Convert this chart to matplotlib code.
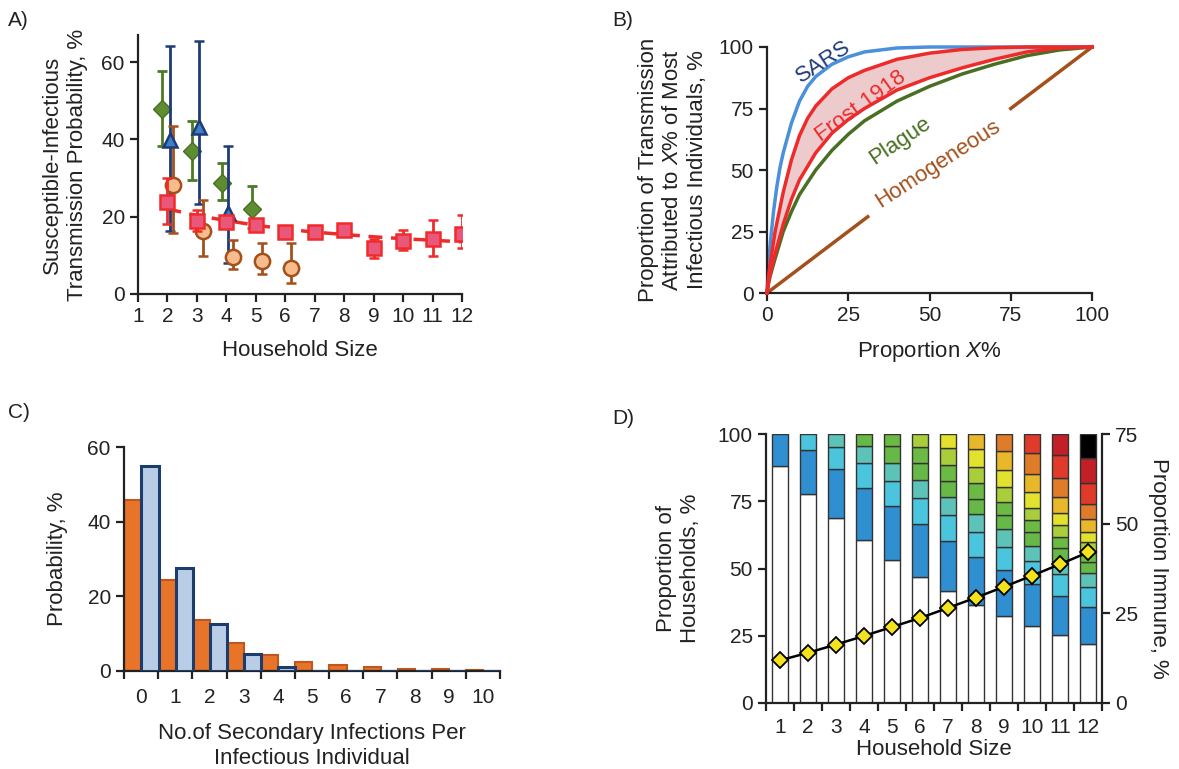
import numpy as np
import matplotlib
matplotlib.use("Agg")
import matplotlib.pyplot as plt
from matplotlib.ticker import FixedLocator

plt.rcParams['font.family'] = ['Liberation Sans', 'DejaVu Sans']
plt.rcParams['mathtext.fontset'] = 'custom'
plt.rcParams['mathtext.it'] = 'Liberation Sans:italic'
plt.rcParams['mathtext.rm'] = 'Liberation Sans'
plt.rcParams['font.size'] = 16
plt.rcParams['text.color'] = '#222222'
plt.rcParams['axes.labelcolor'] = '#222222'
plt.rcParams['xtick.color'] = '#222222'
plt.rcParams['ytick.color'] = '#222222'

# ---- Panel A data: transmission probability by household size
red_x = [2, 3, 4, 5, 6, 7, 8, 9, 10, 11, 12]
red_y = [23.9, 19.0, 18.7, 17.8, 16.0, 16.0, 16.6, 11.8, 13.8, 14.1, 15.4]
red_lo = [18.0, 16.4, 17.2, 16.3, 14.5, 14.5, 15.1, 9.2, 11.4, 9.8, 11.8]
red_hi = [29.9, 21.7, 20.2, 19.3, 17.5, 17.5, 18.1, 14.1, 16.6, 19.1, 20.4]
red_fit = [22.0, 20.3, 19.0, 17.8, 16.8, 16.0, 15.4, 14.8, 14.3, 13.9, 13.5]

green_x = [1.83, 2.84, 3.84, 4.88]
green_y = [47.9, 37.0, 28.8, 21.9]
green_lo = [38.4, 29.5, 24.3, 17.0]
green_hi = [57.7, 44.8, 33.8, 27.9]

blue_x = [2.08, 3.07, 4.07]
blue_y = [39.8, 43.3, 20.9]
blue_lo = [16.4, 23.2, 7.9]
blue_hi = [64.2, 65.4, 38.4]

orange_x = [2.19, 3.21, 4.21, 5.22, 6.19]
orange_y = [28.2, 16.3, 9.6, 8.6, 6.8]
orange_lo = [15.9, 9.8, 6.4, 5.3, 2.8]
orange_hi = [43.5, 24.3, 14.0, 13.1, 13.3]

# ---- Panel B data: cumulative transmission curves
sars_x = [0, 0.5, 1, 2, 3, 4, 5, 7.5, 10, 12.5, 15, 20, 25, 30, 40, 50, 100]
sars_y = [0, 12, 20, 33, 43, 51, 57, 69, 78, 84, 88, 93, 96, 98, 99.6, 100, 100]
frost_hi_x = [0, 0.5, 1, 2.5, 5, 7.5, 10, 12.5, 15, 20, 25, 30, 40, 50, 60, 70, 80, 100]
frost_hi_y = [0, 7, 12, 25, 41, 54, 64, 71, 76, 83, 87.5, 90.5, 95, 97.5, 99, 99.7, 100, 100]
frost_lo_x = [0, 0.5, 1, 2.5, 5, 7.5, 10, 15, 20, 25, 30, 40, 50, 60, 70, 80, 90, 100]
frost_lo_y = [0, 5, 8, 16, 28, 38, 46, 57, 65, 70.5, 75, 82.5, 87.5, 91.5, 95, 98, 99.6, 100]
plague_x = [0, 0.5, 1, 2.5, 5, 7.5, 10, 15, 20, 25, 30, 40, 50, 60, 70, 80, 90, 100]
plague_y = [0, 4, 7, 14, 25, 33, 40, 50, 58, 64.5, 70, 78, 84, 89, 93, 96.5, 98.8, 100]
homog_x = [0, 31, 75, 100]
homog_y = [0, 31, 75, 100]

# ---- Panel C data: offspring distribution
offspring = np.arange(11)
orange_prob = [45.9, 24.5, 13.6, 7.6, 4.3, 2.5, 1.5, 1.0, 0.6, 0.45, 0.3]
blue_prob = [54.8, 27.5, 12.5, 4.5, 1.2, 0, 0, 0, 0, 0, 0]

# ---- Panel D data: households by number infected, proportion immune
hh_sizes = np.arange(1, 13)
hh_dist = [
    [88.2, 11.8],
    [77.8, 16.4, 5.8],
    [68.7, 18.3, 8.3, 4.7],
    [60.5, 19.5, 9.1, 6.6, 4.3],
    [53.3, 19.8, 9.4, 6.9, 6.0, 4.6],
    [47.0, 19.5, 9.7, 6.8, 6.1, 6.1, 4.8],
    [41.7, 18.4, 9.7, 6.9, 5.8, 6.1, 6.2, 5.2],
    [36.5, 17.7, 9.5, 6.5, 5.7, 5.7, 6.0, 6.7, 5.7],
    [32.3, 17.0, 8.7, 6.5, 5.4, 5.0, 5.3, 6.4, 7.1, 6.3],
    [28.5, 15.7, 8.6, 5.7, 5.0, 4.6, 4.4, 5.8, 7.0, 7.8, 6.9],
    [25.1, 14.5, 8.2, 5.0, 4.7, 4.3, 4.2, 4.7, 5.9, 7.1, 8.4, 7.9],
    [22.0, 13.6, 7.5, 5.2, 4.1, 3.5, 3.9, 3.7, 4.8, 5.7, 7.7, 9.3, 9.0],
]
immune = [11.9, 14.0, 16.3, 18.7, 21.2, 23.7, 26.5, 29.4, 32.4, 35.5, 38.7, 42.0]
seg_colors = ['white', '#2F8FD1', '#4BC4DE', '#5DC3B9', '#66B946', '#6BBA44',
              '#A8CE3C', '#E2E22E', '#E8B82A', '#E07B2A', '#E03A2A', '#C21F26', '#000000']

W, H = 1179, 769
fig = plt.figure(figsize=(W / 100, H / 100), dpi=100)


def box(l, t, r, b):
    return [l / W, 1 - b / H, (r - l) / W, (b - t) / H]


def style(ax):
    for s in ['top', 'right']:
        ax.spines[s].set_visible(False)
    for s in ['left', 'bottom']:
        ax.spines[s].set_linewidth(1.6)
        ax.spines[s].set_color('#222222')
    ax.tick_params(direction='out', length=6, width=1.6, labelsize=15)


# ---------------- A
axA = fig.add_axes(box(138, 35, 462, 294))
style(axA)
axA.plot(red_x, red_fit, '--', color='#EE2B2B', lw=2.5, dashes=(4, 2.5), zorder=2)


def errs(y, lo, hi):
    return [np.subtract(y, lo), np.subtract(hi, y)]


axA.errorbar(green_x, green_y, yerr=errs(green_y, green_lo, green_hi), fmt='D', ms=9,
             mfc='#5E8C30', mec='#4A6E22', color='#4D7A25', elinewidth=2, capsize=3.5,
             capthick=2, zorder=3)
axA.errorbar(blue_x, blue_y, yerr=errs(blue_y, blue_lo, blue_hi), fmt='^', ms=10,
             mfc='#3F7EC8', mec='#1E3B78', mew=1.8, color='#1E3B78', elinewidth=2,
             capsize=3.5, capthick=2, zorder=4)
axA.errorbar(orange_x, orange_y, yerr=errs(orange_y, orange_lo, orange_hi), fmt='o', ms=11,
             mfc='#F6BC8C', mec='#A3501C', mew=1.8, color='#A3501C', elinewidth=2,
             capsize=3.5, capthick=2, zorder=4)
axA.errorbar(red_x, red_y, yerr=errs(red_y, red_lo, red_hi), fmt='s', ms=10,
             mfc='#E9587A', mec='#F02B2B', mew=1.8, color='#F02B2B', elinewidth=2,
             capsize=3.5, capthick=2, zorder=5)
axA.set_xlim(1, 12)
axA.set_ylim(0, 67)
axA.set_xticks(range(1, 13))
axA.set_yticks([0, 20, 40, 60])
axA.set_xlabel('Household Size', labelpad=10)
axA.set_ylabel('Susceptible-Infectious\nTransmission Probability, %', labelpad=10)

# ---------------- B
axB = fig.add_axes(box(767, 47, 1092, 293))
style(axB)
axB.fill_between(frost_lo_x, frost_lo_y, np.interp(frost_lo_x, frost_hi_x, frost_hi_y),
                 color='#EDCACC', lw=0, zorder=1)
axB.plot(plague_x, plague_y, color='#4A6E22', lw=2.5, clip_on=False, zorder=2)
axB.plot(sars_x, sars_y, color='#4A90DA', lw=2.5, clip_on=False, zorder=2)
axB.plot(frost_hi_x, frost_hi_y, color='#EE2B2B', lw=2.5, clip_on=False, zorder=3)
axB.plot(frost_lo_x, frost_lo_y, color='#EE2B2B', lw=2.5, clip_on=False, zorder=3)
axB.plot(homog_x[:2], homog_y[:2], color='#A3501C', lw=2.5, clip_on=False)
axB.plot(homog_x[2:], homog_y[2:], color='#A3501C', lw=2.5, clip_on=False)
axB.text(17.5, 94, 'SARS', color='#1E3B78', fontsize=16, rotation=33, ha='center', va='center')
axB.text(29, 76, 'Frost 1918', color='#EE2B2B', fontsize=16, rotation=36, ha='center', va='center')
axB.text(41, 62, 'Plague', color='#4A6E22', fontsize=16, rotation=34, ha='center', va='center')
axB.text(52.5, 52.5, 'Homogeneous', color='#A3501C', fontsize=16, rotation=33, ha='center', va='center')
axB.set_xlim(0, 100)
axB.set_ylim(0, 100)
axB.set_xticks([0, 25, 50, 75, 100])
axB.set_yticks([0, 25, 50, 75, 100])
axB.set_xlabel('Proportion $X$%', labelpad=10)
axB.set_ylabel('Proportion of Transmission\nAttributed to $X$% of Most\nInfectious Individuals, %', labelpad=8)

# ---------------- C
axC = fig.add_axes(box(124, 447, 500, 671))
style(axC)
axC.bar(offspring - 0.24, orange_prob, width=0.5, color='#E8742A', edgecolor='#C0571C', lw=1.5, zorder=2)
axC.bar(offspring + 0.26, blue_prob, width=0.5, color='#B9CDE6', edgecolor='#1C3C6C', lw=2.2, zorder=3)
axC.set_xlim(-0.5, 10.5)
axC.set_ylim(0, 60)
axC.set_yticks([0, 20, 40, 60])
axC.set_xticks(offspring)
axC.xaxis.set_minor_locator(FixedLocator(np.arange(-0.5, 11, 1)))
axC.tick_params(axis='x', which='major', length=0, pad=12)
axC.tick_params(axis='x', which='minor', direction='out', length=6, width=1.6)
axC.set_xlabel('No.of Secondary Infections Per\nInfectious Individual', labelpad=12)
axC.set_ylabel('Probability, %', labelpad=14)

# ---------------- D
axD = fig.add_axes(box(766, 434, 1102, 703))
style(axD)
for n, dist in zip(hh_sizes, hh_dist):
    bottom = 0
    for k, v in enumerate(dist):
        axD.bar(n, v, bottom=bottom, width=0.58, color=seg_colors[k],
                edgecolor='#333333', lw=1, zorder=2)
        bottom += v
axD.set_xlim(0.5, 12.5)
axD.set_ylim(0, 100)
axD.set_yticks([0, 25, 50, 75, 100])
axD.set_xticks(hh_sizes)
axD.xaxis.set_minor_locator(FixedLocator(np.arange(0.5, 13, 1)))
axD.tick_params(axis='x', which='major', length=0, pad=11)
axD.tick_params(axis='x', which='minor', direction='out', length=6, width=1.6)
axD.set_xlabel('Household Size', labelpad=1)
axD.set_ylabel('Proportion of\nHouseholds, %', labelpad=12)

axD2 = axD.twinx()
axD2.spines['top'].set_visible(False)
axD2.spines['left'].set_visible(False)
axD2.spines['bottom'].set_visible(False)
axD2.spines['right'].set_linewidth(1.6)
axD2.spines['right'].set_color('#222222')
axD2.tick_params(direction='out', length=6, width=1.6, labelsize=15)
axD2.plot(hh_sizes, immune, '-D', color='black', lw=1.8, ms=8.5, mfc='#F4E31C', mec='black',
          mew=1.3, zorder=5)
axD2.set_ylim(0, 75)
axD2.set_yticks([0, 25, 50, 75])
axD2.set_ylabel('Proportion Immune, %', rotation=270, labelpad=22)

# panel letters
for lab, x, y in [('A)', 8, 20), ('B)', 612, 20), ('C)', 8, 412), ('D)', 612, 418)]:
    fig.text(x / W, 1 - y / H, lab, fontsize=15, va='center', ha='left')

fig.savefig('out.png', dpi=100)
